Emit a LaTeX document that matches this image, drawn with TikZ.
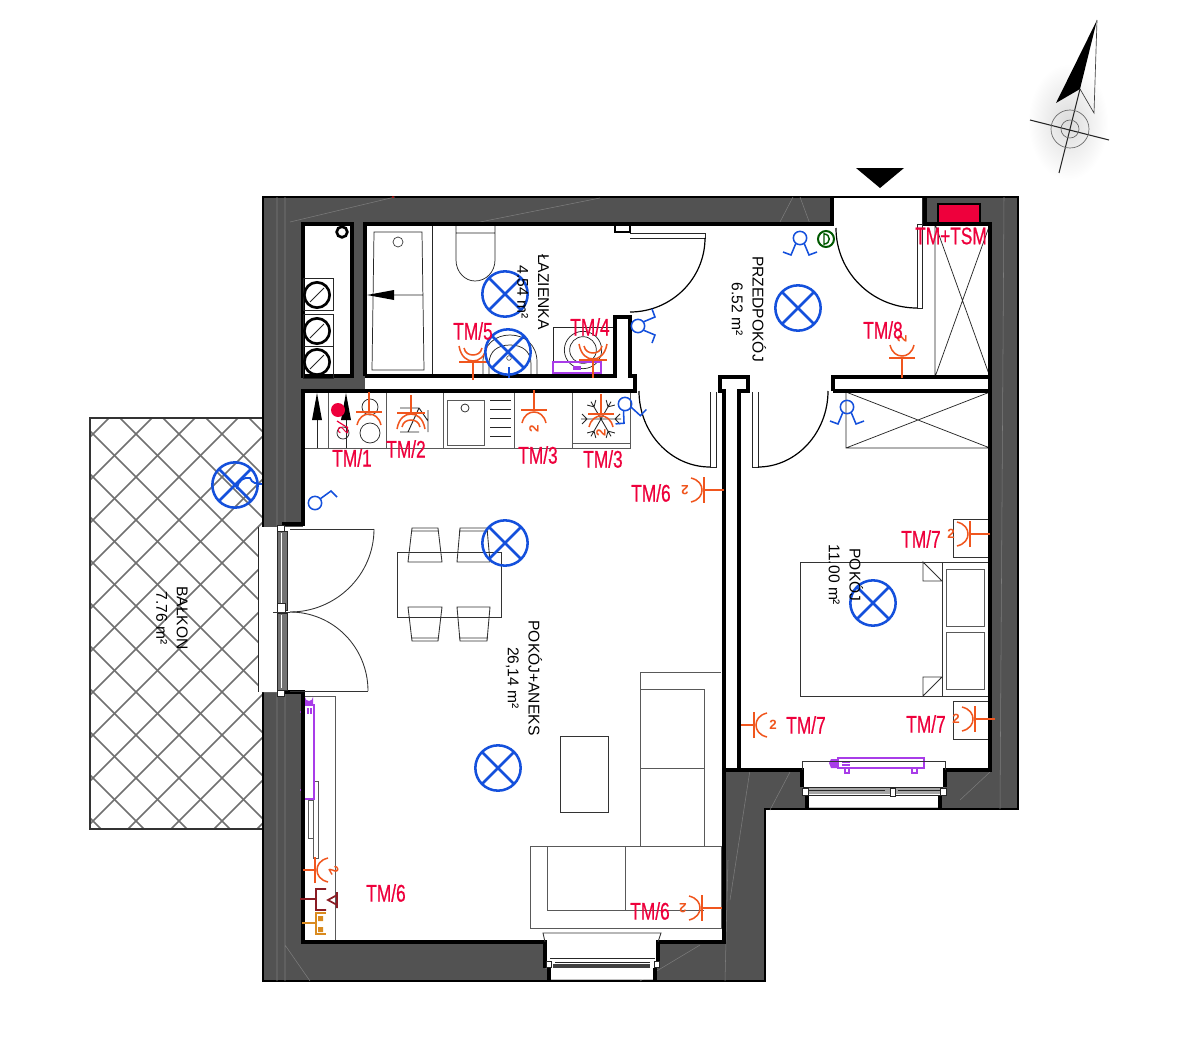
\documentclass[tikz,border=0pt]{standalone}
\usepackage{fontspec}
\setmainfont{Liberation Sans}
\newfontfamily\tmfont[FakeBold=.7]{Liberation Sans}
\definecolor{wallc}{HTML}{525252}
\definecolor{streak}{HTML}{7C7C7C}
\definecolor{lampc}{HTML}{1450DC}
\definecolor{sockc}{HTML}{F0561E}
\definecolor{tmc}{HTML}{EE003C}
\definecolor{purp}{HTML}{A83CE8}
\definecolor{tvc}{HTML}{8A1C24}
\definecolor{netc}{HTML}{D98A1E}
\definecolor{hatchc}{HTML}{707070}
\newcounter{lblno}
\tikzset{
  wallline/.style={line width=2.7pt,black,line join=miter},
  thinline/.style={line width=.55pt,black!85},
  furn/.style={line width=.65pt,black!80},
  greyline/.style={line width=.7pt,black!65},
  lampline/.style={line width=1.9pt,lampc},
  switchline/.style={line width=1.15pt,lampc},
  sockline/.style={line width=1.15pt,sockc},
  tmtext/.style={inner sep=0pt,text=tmc,font=\fontsize{18}{18}\tmfont},
  roomtext/.style={inner sep=0pt,align=center,rotate=-90,black,font=\fontsize{11.7}{15.5}\selectfont},
  numtext/.style={inner sep=0pt,text=sockc,font=\fontsize{10}{10}\selectfont\bfseries},
  purpline/.style={line width=.9pt,purp},
}
\newcommand{\lamp}[3]{\begin{scope}[shift={(#2,#3)}]
  \node[circle,draw=lampc,line width=1.9pt,minimum size=34pt,inner sep=0pt] (#1) at (0,0) {};
  \draw[lampline] (-16,-16)--(16,16) (-16,16)--(16,-16);
\end{scope}}
\newcommand{\sw}[4]{\begin{scope}[shift={(#2,#3)},rotate=#4]
  \node[circle,draw=lampc,line width=1.15pt,minimum size=10pt,inner sep=0pt] (#1) at (0,0) {};
  \draw[switchline] (-4,5)--(-9,17)--(-17,14) (4,5)--(9,17)--(17,14);
\end{scope}}
% \sock[stem]{x}{y}{rot}{text rot}
\newcommand{\sock}[5][20]{\begin{scope}[shift={(#2,#3)},rotate=#4]
  \draw[sockline] (0,0)--(0,#1) (-13,#1)--(13,#1);
  \draw[sockline] (-12,#1+13) .. controls (-10,#1+5) and (-5,#1+2) .. (0,#1+2) .. controls (5,#1+2) and (10,#1+5) .. (12,#1+13);
  \stepcounter{lblno}
  \ifx#5x\else\node[numtext,rotate=#5] (n\arabic{lblno}) at (0,#1+19) {2};\fi
\end{scope}}
\newcommand{\dsock}[4]{\begin{scope}[shift={(#1,#2)},rotate=#3]
  \draw[sockline] (0,0)--(0,#4) (-14,#4)--(14,#4);
  \draw[sockline] (-14,#4+16) .. controls (-12,#4+5) and (-6,#4+1) .. (0,#4+1) .. controls (6,#4+1) and (12,#4+5) .. (14,#4+16);
  \draw[sockline] (-9,#4+14) .. controls (-8,#4+9) and (-4,#4+7) .. (0,#4+7) .. controls (4,#4+7) and (8,#4+9) .. (9,#4+14);
\end{scope}}
\newcommand{\tm}[4]{\node[tmtext] (#1) at (#2,#3) {\scalebox{.72}[1]{#4}};}
\begin{document}
\begin{tikzpicture}[x=.75pt,y=-.75pt]
\useasboundingbox (0,0) rectangle (1200,1060);
\fill[white] (0,0) rectangle (1200,1060);

% compass
\shade[inner color=black!14,outer color=white] (1068,122) ellipse [x radius=40,y radius=58];
\fill[black] (1097,20)--(1056,103)--(1080,89)--cycle;
\draw[line width=.5pt,black!75] (1097,20)--(1094,113)--(1080,89);
\draw[line width=.8pt,black!85] (1080,89)--(1059,173) (1030,120)--(1109,140);
\node[circle,draw=black!60,line width=.5pt,minimum size=28.5pt,inner sep=0pt] (compassa) at (1070,129) {};
\node[circle,draw=black!60,line width=.5pt,minimum size=13.5pt,inner sep=0pt] (compassb) at (1070,129) {};

% balcony
\begin{scope}
  \clip (90,418) rectangle (262,829);
  \foreach \k in {-15,...,20}{
    \draw[line width=1.1pt,hatchc] (0,785+43*\k)--(1000,785+43*\k-1000);
    \draw[line width=1.1pt,hatchc] (0,341+43*\k)--(1000,341+43*\k+1000);
  }
\end{scope}
\draw[line width=.8pt,black!80] (262,418)--(90,418)--(90,829)--(262,829);

% outer walls
\filldraw[fill=wallc,draw=black,line width=1.6pt] (263,197)--(1018,197)--(1018,809)--(765,809)--(765,981)--(263,981)--cycle;
\draw[line width=.4pt,streak] (277,197)--(277,981) (285,197)--(285,981) (1004,197)--(1000,809) (395,197)--(290,222) (600,198)--(470,224) (793,197)--(780,222) (800,197)--(810,224)
  (285,945)--(310,981) (640,981)--(700,945) (725,981)--(728,860) (750,770)--(730,900) (960,800)--(990,772) (830,805)--(815,775) (770,810)--(790,772);
\fill[red!70!black] (393,197) circle [radius=1.2];

% white interior
\fill[white] (365,224)--(832,224)--(832,198)--(925,198)--(925,224)--(990,224)--(990,770)--(945,770)--(945,787)--(940,787)--(940,807.5)--(807,807.5)--(807,787)--(802,787)--(802,770)--(724,770)--(724,942)--(658,942)--(658,968)--(655,968)--(655,979.5)--(549,979.5)--(549,968)--(545,968)--(545,942)--(303,942)--(303,692)--(258,692)--(258,527)--(303,527)--(303,391)--(365,391)--cycle;
\fill[wallc] (303,376) rectangle (365,391);
\filldraw[fill=white,draw=black,line width=2.7pt] (303,224) rectangle (352,376);

% shaft
\foreach \yy in {278,314,346}{
  \draw[thinline] (303,\yy) rectangle (333,\yy+32);
}
\foreach \yy/\cc in {295/1,331/2,362/3}{
  \node[circle,draw=black,line width=2pt,minimum size=19pt,inner sep=0pt] (flue\cc) at (317,\yy+0) {};
  \draw[thinline] (310,\yy+7)--(324,\yy-7);
}
\node[circle,draw=black,line width=2pt,minimum size=8pt,inner sep=0pt] (vent) at (342,232) {};

% bath
\draw[thinline] (432,224)--(432,376);
\draw[thinline] (374,232)--(422,232)--(424,370)--(372,370)--cycle (373,295)--(423,295);
\node[circle,draw=black!80,line width=.5pt,minimum size=7.5pt,inner sep=0pt] (baindrain) at (398,242) {};
\fill[black] (367,295)--(394,290)--(394,300)--cycle;
% toilet
\draw[thinline] (456,225)--(456,260) .. controls (456,272) and (465,281) .. (475,281) .. controls (486,281) and (495,272) .. (495,260)--(495,225) (456,233)--(495,233);
% basin
\draw[thinline] (483,376)--(483,362) .. controls (483,345) and (495,335) .. (510,335) .. controls (525,335) and (537,345) .. (537,362)--(537,376);
\draw[thinline] (489,376)--(489,364) .. controls (489,351) and (498,345) .. (510,345) .. controls (522,345) and (531,351) .. (531,364)--(531,376);
\node[circle,draw=black!80,line width=.4pt,minimum size=3.5pt,inner sep=0pt] (basindrain) at (509,358) {};
% washer
\draw[thinline] (615,327)--(553,327)--(553,376);
\node[circle,draw=black!85,line width=.55pt,minimum size=28pt,inner sep=0pt] (washa) at (583,350) {};
\node[circle,draw=black!85,line width=.55pt,minimum size=20pt,inner sep=0pt] (washb) at (583,350) {};
\draw[purpline] (553,362) rectangle (601,373);
\draw[purpline] (560,373) rectangle (564,377) (590,373) rectangle (594,377);
\fill[purp] (573,366) rectangle (581,370);

% kitchen
\draw[greyline] (303,448)--(630,448)--(630,391) (572,443)--(630,443);
\draw[greyline] (328,391)--(328,448) (386,391)--(386,448) (443,391)--(443,448) (514,391)--(514,448) (572,391)--(572,448);
\draw[thinline] (317,420)--(317,448);
\draw[thinline] (346,420)--(346,448);
\fill[black] (317,393)--(312,420)--(322,420)--cycle;
\fill[black] (346,393)--(341,420)--(351,420)--cycle;
\node[circle,draw=black!85,line width=.55pt,minimum size=12pt,inner sep=0pt] (hoba) at (370,407) {};
\node[circle,draw=black!85,line width=.55pt,minimum size=15pt,inner sep=0pt] (hobb) at (370,433) {};
\node[circle,draw=black!85,line width=.55pt,minimum size=9pt,inner sep=0pt] (hobc) at (343,433) {};
\draw[greyline] (447,400) rectangle (484,445);
\node[circle,draw=black!85,line width=.55pt,minimum size=6pt,inner sep=0pt] (sinkdrain) at (465,408) {};
\foreach \yy in {400,409,418,427,436} \draw[thinline] (490,\yy)--(511,\yy);
% oven lines
\draw[line width=.7pt,black!85] (400,408)--(419,408) (400,432)--(419,432) (408,432)--(419,408) (428,410)--(428,432) (419,408)--(428,421);
% snowflake
\begin{scope}[shift={(601,419)}]
  \foreach \a in {0,60,120,180,240,300}{
    \begin{scope}[rotate=\a]
      \draw[line width=.65pt,black!85] (0,0)--(20,0) (14,0)--(19,-5) (14,0)--(19,5);
    \end{scope}
  }
\end{scope}

% table and chairs
\draw[furn] (397,552) rectangle (501,617);
\foreach \xa/\xb/\xc/\xd in {408/412/438/442,457/460/487/490}{
  \draw[furn] (\xa,562)--(\xb,528)--(\xc,528)--(\xd,562)--cycle (\xb-1,531)--(\xc+1,531);
  \draw[furn] (\xa,607)--(\xb,641)--(\xc,641)--(\xd,607)--cycle (\xb-1,638)--(\xc+1,638);
}
% sofa
\draw[greyline] (640,846)--(640,672)--(721,672) (640,689)--(704,689)--(704,846) (640,768)--(704,768);
\draw[greyline] (530,846) rectangle (721,928) (547,846)--(547,910)--(704,910) (625,846)--(625,910);
\draw[furn] (560,736) rectangle (608,812);
% left shelf
\draw[greyline] (303,696)--(335,696)--(335,942);
\draw[greyline] (313,781) rectangle (318,858) (308,800) rectangle (313,838);
\draw[purpline] (304,705) rectangle (314,799);
\fill[purp] (305,704)--(305,697) arc[start angle=180,end angle=0,radius=4]--(313,704)--cycle;
\draw[purpline] (308,708)--(308,714) (311,708)--(311,714) (300,712)--(303,712) (300,790)--(303,790);

% bedroom
\draw[furn] (800,562) rectangle (990,696) (942,562)--(942,696);
\draw[greyline] (946,569) rectangle (984,626) (946,632) rectangle (984,689);
\draw[furn] (923,562)--(923,581)--(942,581)--cycle (923,696)--(923,677)--(942,677)--cycle;
\draw[furn] (953,519) rectangle (990,557) (953,701) rectangle (990,739);
% radiator bedroom
\draw[purpline] (838,758) rectangle (924,768) (845,768) rectangle (849,773) (912,768) rectangle (917,773) (842,762)--(850,762) (842,765)--(850,765);
\fill[purp] (838,759)--(831,759)--(829,763)--(831,768)--(838,768)--cycle;

% closets
\draw[thinline] (935,224)--(935,377) (935,377)--(990,224) (990,377)--(935,224);
\draw[thinline] (846,392) rectangle (990,448) (846,392)--(990,448) (846,448)--(990,392);
\draw[thinline] (917,224)--(935,224);

% thick walls
\draw[wallline] (365,376)--(365,224)--(832,224)--(832,198);
\draw[wallline] (365,376)--(615,376)--(615,317)--(630,317)--(630,376)--(635,376)--(635,391)--(303,391)--(303,524)--(282,524);
\draw[wallline] (282,692)--(303,692)--(303,942)--(545,942)--(545,968) (549,968)--(549,980) (655,980)--(655,968) (658,968)--(658,942)--(724,942)--(724,391)--(720,391)--(720,377)--(748,377)--(748,391)--(739,391)--(739,772);
\draw[wallline] (723,770)--(802,770)--(802,787) (945,787)--(945,770)--(990,770)--(990,224)--(925,224)--(925,198);
\draw[wallline] (807,795)--(807,808) (940,795)--(940,808);
\draw[wallline] (833,391)--(833,377)--(990,377) (833,391)--(990,391);
\draw[line width=1.5pt] (615,225)--(615,232)--(630,232)--(630,225);

% doors
\draw[thinline] (630,233)--(705,233)--(705,238)--(630,238);
\draw[line width=.9pt] (705,238) .. controls (705,279) and (671,312) .. (630,312);
\draw[thinline] (922,198)--(922,308)--(917,308)--(917,224);
\draw[line width=.9pt] (917,308) .. controls (872,308) and (836,272) .. (836,228);
\draw[thinline] (716,392)--(716,467)--(710,467)--(710,392);
\draw[line width=.9pt] (710,467) .. controls (671,467) and (639,433) .. (639,391);
\draw[thinline] (752,392)--(752,467)--(758,467)--(758,392);
\draw[line width=.9pt] (758,467) .. controls (796,467) and (828,433) .. (828,391);
% balcony door
\draw[thinline] (258,527)--(258,692);
\fill[black!55] (277,531) rectangle (287,610) (277,613) rectangle (287,690);
\draw[thinline,white] (281,533)--(281,608) (281,615)--(281,688);
\draw[thinline] (277,531) rectangle (287,610) (277,613) rectangle (287,690);
\draw[thinline,fill=white] (277,525) rectangle (284,531) (277,603) rectangle (285,613) (277,690) rectangle (284,696);
\draw[furn] (290,529)--(374,529) (290,691)--(368,691) (273,612)--(290,612);
\draw[furn] (374,529) .. controls (374,575) and (336,612) .. (290,612);
\draw[furn] (368,691) .. controls (368,647) and (333,612) .. (290,612);
% bedroom window
\draw[furn] (802,770)--(802,761)--(945,761)--(945,770);
\fill[black!35] (806,788) rectangle (941,794);
\draw[thinline] (803,787)--(943,787) (808,790)--(885,790) (898,790)--(940,790) (803,795)--(943,795);
\draw[thinline,fill=white] (802,788) rectangle (808,795) (940,788) rectangle (946,795) (890,788) rectangle (895,796);
% south window
\draw[furn] (545,942)--(543,933)--(661,933)--(658,942);
\fill[black!75] (553,964) rectangle (650,968);
\draw[thinline] (550,958)--(655,958) (555,962)--(650,962);
\draw[thinline,fill=white] (546,961) rectangle (551,967) (654,961) rectangle (659,967);

% entrance marker, meter box
\fill[black] (856,168)--(904,168)--(880,188)--cycle;
\filldraw[fill=tmc,draw=black,line width=1.2pt] (938,204) rectangle (980,223);

% sockets
\sock{534}{390}{0}{90}
\sock{369}{392}{0}{x}
\sock{601}{394}{0}{90}
\dsock{411}{395}{0}{18}
\dsock{473}{380}{180}{18}
\dsock{593}{378}{180}{18}
\sock{902}{378}{180}{90}
\sock{724}{490}{-90}{180}
\sock{722}{908}{-90}{180}
\sock[12]{303}{870}{90}{-60}
\sock[13]{741}{725}{90}{0}
\sock{990}{534}{-90}{0}
\sock{995}{719}{-90}{0}
% red mark in kitchen
\fill[tmc] (338,410) circle [radius=7];
\node[inner sep=0pt,text=tmc,rotate=90,font=\fontsize{11}{11}\selectfont] (twored) at (343,430) {2};
\draw[line width=.9pt,tmc] (337,421)--(348,428);
% TV
\draw[line width=1.3pt,tvc] (300,899)--(316,899) (326,889)--(316,889)--(316,910)--(326,910) (337,892)--(337,908) (337,895)--(328,900)--(337,905);
% data
\draw[line width=1.1pt,netc] (302,923)--(316,923) (326,913)--(316,913)--(316,934)--(326,934);
\fill[netc] (318,916) rectangle (323,921) (318,927) rectangle (323,932);
% lamp stub
\draw[lampline,line width=1.3pt] (509,367)--(509,378);

% switches
\sw{swa}{800}{238}{0}
\sw{swb}{638}{326}{90}
\sw{swc}{625}{404}{25}
\sw{swd}{847}{407}{0}
\node[circle,draw=lampc,line width=1.15pt,minimum size=10pt,inner sep=0pt] (swe) at (315,503) {};
\draw[switchline] (320,499)--(331,491)--(337,497);
\node[circle,draw=black!50!green!70!black,line width=1.5pt,minimum size=12pt,inner sep=0pt] (dbell) at (826,239) {};
\draw[line width=1.1pt,black!50!green!70!black] (824,233)--(824,245) (824,234) .. controls (831,234) and (831,244) .. (824,244);

% lamps
\lamp{lampa}{505}{294}
\lamp{lampb}{508}{352}
\lamp{lampc}{798}{308}
\lamp{lampd}{873}{603}
\lamp{lampe}{505}{543}
\lamp{lampf}{498}{768}
\lamp{lampg}{235}{485}
\draw[switchline,line width=1.4pt] (237,489) .. controls (238,480) and (244,477) .. (250,478) .. controls (252,483) and (256,484) .. (262,484);

% room labels
\node[roomtext] (rbalkon) at (172,618) {BAŁKON\\7.76 m²};
\node[roomtext] (rlaz) at (533,292) {ŁAZIENKA\\4.54 m²};
\node[roomtext] (rprzed) at (749,309) {PRZEDPOKÓJ\\6.52 m²};
\node[roomtext] (rpokoj) at (846,575) {POKÓJ\\11.00 m²};
\node[roomtext] (raneks) at (524,678) {POKÓJ+ANEKS\\26,14 m²};

% TM labels
\tm{ta}{352}{458}{TM/1}
\tm{tb}{406}{449}{TM/2}
\tm{tc}{538}{455}{TM/3}
\tm{td}{603}{459}{TM/3}
\tm{te}{473}{331}{TM/5}
\tm{tf}{590}{327}{TM/4}
\tm{tg}{651}{493}{TM/6}
\tm{th}{650}{911}{TM/6}
\tm{ti}{386}{893}{TM/6}
\tm{tj}{883}{330}{TM/8}
\tm{tk}{951}{236}{TM+TSM}
\tm{tl}{921}{539}{TM/7}
\tm{tm}{926}{724}{TM/7}
\tm{tn}{806}{725}{TM/7}
\end{tikzpicture}
\end{document}
